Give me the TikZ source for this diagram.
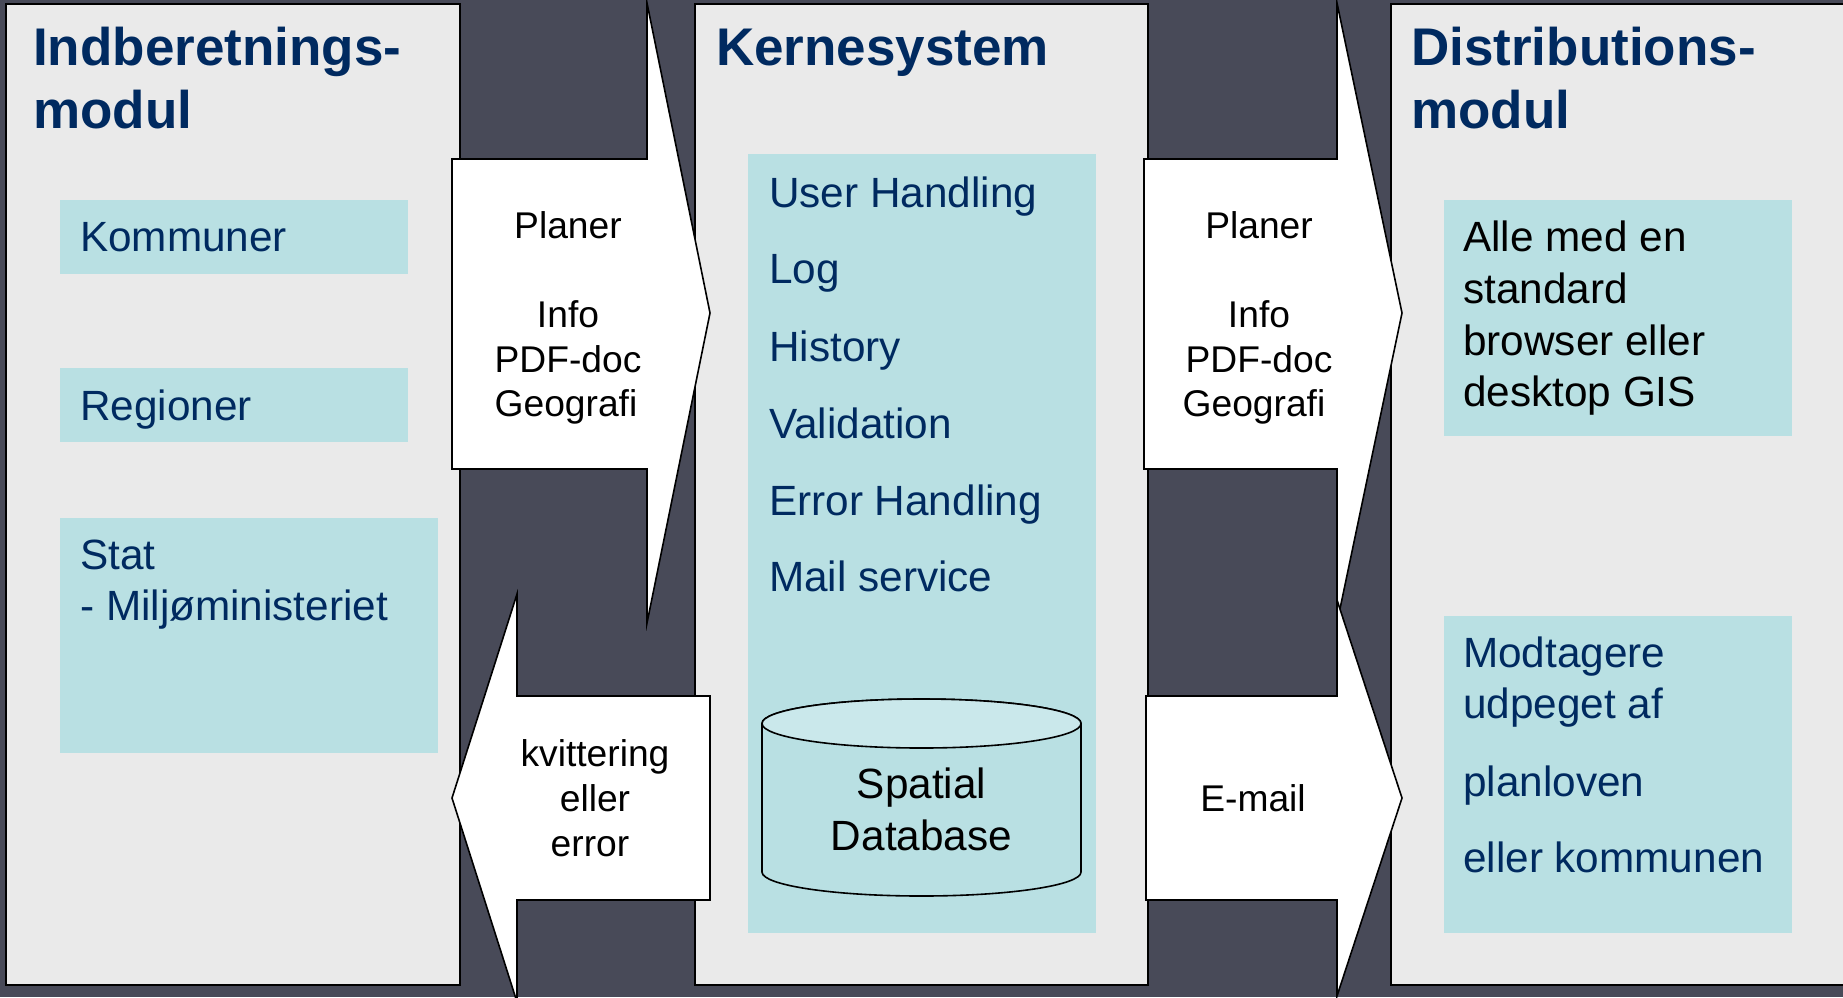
\documentclass[tikz,border=0pt]{standalone}
\usepackage{fontspec}
\setmainfont{Liberation Sans}
\definecolor{bgdark}{RGB}{72,74,88}
\definecolor{panelgray}{RGB}{234,234,234}
\definecolor{boxteal}{RGB}{185,224,227}
\definecolor{cyltop}{RGB}{202,232,235}
\definecolor{navytext}{RGB}{0,42,96}
\tikzset{
  panel/.style={fill=panelgray, draw=black, line width=2pt},
  tealbox/.style={fill=boxteal},
  blockarrow/.style={fill=white, draw=black, line width=1.6pt, line join=miter},
  titletxt/.style={anchor=base west, inner sep=0pt, text=navytext, font=\fontsize{53}{63}\selectfont\bfseries},
  itemtxt/.style={anchor=base west, inner sep=0pt, text=navytext, font=\fontsize{42.3}{51.6}\selectfont},
  blacktxt/.style={anchor=base west, inner sep=0pt, text=black, font=\fontsize{42.3}{51.6}\selectfont},
  dbtxt/.style={anchor=base, inner sep=0pt, text=black, font=\fontsize{42.3}{51.6}\selectfont},
  arrowtxt/.style={anchor=base, inner sep=0pt, text=black, font=\fontsize{37.2}{44.7}\selectfont},
}
\begin{document}
\begin{tikzpicture}[x=1pt, y=-1pt]
\useasboundingbox (0,0) rectangle (1843,997);
\begin{scope}
\clip (0,0) rectangle (1843,997);
\fill[bgdark] (0,0) rectangle (1843,997);

% panels
\path[panel] (6,4) rectangle (460,985);
\path[panel] (695,4) rectangle (1148,985);
\fill[panelgray] (1391,4) rectangle (1850,985);
\draw[line width=2pt] (1850,4) -- (1391,4) -- (1391,985) -- (1850,985);

% titles
\node[titletxt] (t1a) at (33,65) {Indberetnings-};
\node[titletxt] (t1b) at (33,128) {modul};
\node[titletxt] (t2a) at (716,65) {Kernesystem};
\node[titletxt] (t3a) at (1411,65) {Distributions-};
\node[titletxt] (t3b) at (1411,128) {modul};

% left panel boxes
\path[tealbox] (60,200) rectangle (408,274);
\node[itemtxt] (kom) at (80,251) {Kommuner};
\path[tealbox] (60,368) rectangle (408,442);
\node[itemtxt] (reg) at (80,420) {Regioner};
\path[tealbox] (60,518) rectangle (438,753);
\node[itemtxt] (stat) at (80,569) {Stat};
\node[itemtxt] (mil) at (80,620) {- Miljøministeriet};

% middle panel
\path[tealbox] (748,154) rectangle (1096,933);
\node[itemtxt] (m1) at (769,207) {User Handling};
\node[itemtxt] (m2) at (769,283) {Log};
\node[itemtxt] (m3) at (769,361) {History};
\node[itemtxt] (m4) at (769,438) {Validation};
\node[itemtxt] (m5) at (769,515) {Error Handling};
\node[itemtxt] (m6) at (769,591) {Mail service};

% cylinder
\filldraw[fill=boxteal, draw=black, line width=1.6pt]
  (762,723.5) -- (762,872)
  arc[start angle=180, end angle=360, x radius=159.5pt, y radius=24pt]
  -- (1081,723.5)
  arc[start angle=0, end angle=180, x radius=159.5pt, y radius=24.5pt] -- cycle;
\filldraw[fill=cyltop, draw=black, line width=1.6pt]
  (921.5,723.5) ellipse [x radius=159.5pt, y radius=24.5pt];
\node[dbtxt] (db1) at (921.5,798) {Spatial};
\node[dbtxt] (db2) at (921.5,850) {Database};

% right panel boxes
\path[tealbox] (1444,200) rectangle (1792,436);
\node[blacktxt] (r1) at (1463,251) {Alle med en};
\node[blacktxt] (r2) at (1463,303) {standard};
\node[blacktxt] (r3) at (1463,355) {browser eller};
\node[blacktxt] (r4) at (1463,406) {desktop GIS};
\path[tealbox] (1444,616) rectangle (1792,933);
\node[itemtxt] (s1) at (1463,667) {Modtagere};
\node[itemtxt] (s2) at (1463,718) {udpeget af};
\node[itemtxt] (s3) at (1463,796) {planloven};
\node[itemtxt] (s4) at (1463,872) {eller kommunen};

% block arrows
\path[blockarrow] (452,159) -- (647,159) -- (647,3) -- (710,313) -- (647,623) -- (647,469) -- (452,469) -- cycle;
\path[blockarrow] (710,696) -- (517,696) -- (517,594) -- (452,798) -- (517,1002) -- (517,900) -- (710,900) -- cycle;
\path[blockarrow] (1144,159) -- (1337,159) -- (1337,3) -- (1402,313) -- (1337,623) -- (1337,469) -- (1144,469) -- cycle;
\path[blockarrow] (1146,696) -- (1337,696) -- (1337,600) -- (1402,798) -- (1337,996) -- (1337,900) -- (1146,900) -- cycle;

% arrow labels
\node[arrowtxt] (a1a) at (568,238) {Planer};
\node[arrowtxt] (a1b) at (568,327) {Info};
\node[arrowtxt] (a1c) at (568,372) {PDF-doc};
\node[arrowtxt] (a1d) at (566,416) {Geografi};
\node[arrowtxt] (a2a) at (595,766) {kvittering};
\node[arrowtxt] (a2b) at (595,811) {eller};
\node[arrowtxt] (a2c) at (590,856) {error};
\node[arrowtxt] (a3a) at (1259,238) {Planer};
\node[arrowtxt] (a3b) at (1259,327) {Info};
\node[arrowtxt] (a3c) at (1259,372) {PDF-doc};
\node[arrowtxt] (a3d) at (1254,416) {Geografi};
\node[arrowtxt] (a4a) at (1253,811) {E-mail};
\end{scope}
\end{tikzpicture}
\end{document}
